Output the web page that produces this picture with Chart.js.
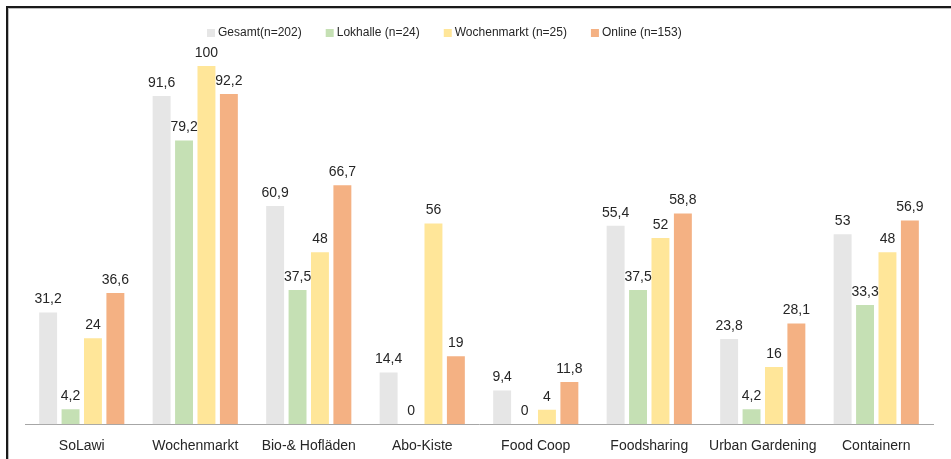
<!DOCTYPE html>
<html>
<head>
<meta charset="utf-8">
<script src="https://cdn.jsdelivr.net/npm/chart.js@4"></script>
<style>
  html, body { margin: 0; padding: 0; background: #fff; }
  #wrap { position: relative; width: 951px; height: 459px; }
</style>
</head>
<body>
<div id="wrap"><canvas id="chart" width="951" height="459"></canvas></div>
<script>
// Kategorien und Werte (in %)
const categories = ['SoLawi', 'Wochenmarkt', 'Bio-& Hofläden', 'Abo-Kiste', 'Food Coop', 'Foodsharing', 'Urban Gardening', 'Containern'];
const seriesLabels = ['Gesamt(n=202)', 'Lokhalle (n=24)', 'Wochenmarkt (n=25)', 'Online (n=153)'];
const gesamt = [31.2, 91.6, 60.9, 14.4, 9.4, 55.4, 23.8, 53];
const lokhalle = [4.2, 79.2, 37.5, 0, 0, 37.5, 4.2, 33.3];
const wochenmarkt = [24, 100, 48, 56, 4, 52, 16, 48];
const online = [36.6, 92.2, 66.7, 19, 11.8, 58.8, 28.1, 56.9];
const colors = ['#e6e6e6', '#c5e0b4', '#ffe699', '#f4b183'];

const FONT = '"Liberation Sans", Arial, sans-serif';

// Rahmen, Legende und Werte-Beschriftungen
const decorPlugin = {
    id: 'decor',
    beforeDraw(chart) {
        const ctx = chart.ctx;
        ctx.save();
        ctx.fillStyle = '#fff';
        ctx.fillRect(0, 0, chart.width, chart.height);
        ctx.fillStyle = '#1a1a1a';
        ctx.fillRect(6, 6, chart.width - 6, 2);
        ctx.fillRect(6, 6, 2, chart.height - 6);
        ctx.fillStyle = '#bdbdbd';
        ctx.fillRect(8, 8, chart.width - 8, 1);
        ctx.fillRect(8, 8, 1, chart.height - 8);
        ctx.restore();
    },
    afterDraw(chart) {
        const ctx = chart.ctx;
        ctx.save();
        // Legende
        ctx.font = '12px ' + FONT;
        ctx.textBaseline = 'middle';
        ctx.textAlign = 'left';
        let x = 207;
        const y = 33;
        chart.data.datasets.forEach(function (ds) {
            ctx.fillStyle = ds.backgroundColor;
            ctx.fillRect(x, y - 4, 8, 8);
            ctx.fillStyle = '#262626';
            ctx.fillText(ds.label, x + 11, y);
            x += 11 + ctx.measureText(ds.label).width + 24;
        });
        // Werte über den Balken
        ctx.font = '14px ' + FONT;
        ctx.textAlign = 'center';
        ctx.textBaseline = 'bottom';
        ctx.fillStyle = '#262626';
        chart.data.datasets.forEach(function (ds, i) {
            chart.getDatasetMeta(i).data.forEach(function (bar, j) {
                const txt = String(ds.data[j]).replace('.', ',');
                ctx.fillText(txt, bar.x, bar.y - 6);
            });
        });
        ctx.restore();
    }
};

new Chart(document.getElementById('chart'), {
    type: 'bar',
    data: {
        labels: categories,
        datasets: [
            { label: seriesLabels[0], data: gesamt, backgroundColor: colors[0] },
            { label: seriesLabels[1], data: lokhalle, backgroundColor: colors[1] },
            { label: seriesLabels[2], data: wochenmarkt, backgroundColor: colors[2] },
            { label: seriesLabels[3], data: online, backgroundColor: colors[3] }
        ]
    },
    options: {
        responsive: false,
        animation: false,
        events: [],
        categoryPercentage: 0.79,
        barPercentage: 0.8,
        layout: { padding: { top: 66, left: 25, right: 18, bottom: -10 } },
        scales: {
            x: {
                grid: { display: false, drawTicks: false },
                border: { display: true, color: '#a6a6a6', width: 1 },
                ticks: { padding: 14, color: '#262626', font: { family: FONT, size: 14 }, maxRotation: 0 }
            },
            y: { display: false, min: 0, max: 100 }
        },
        plugins: {
            legend: { display: false },
            tooltip: { enabled: false }
        }
    },
    plugins: [decorPlugin]
});
</script>
</body>
</html>
